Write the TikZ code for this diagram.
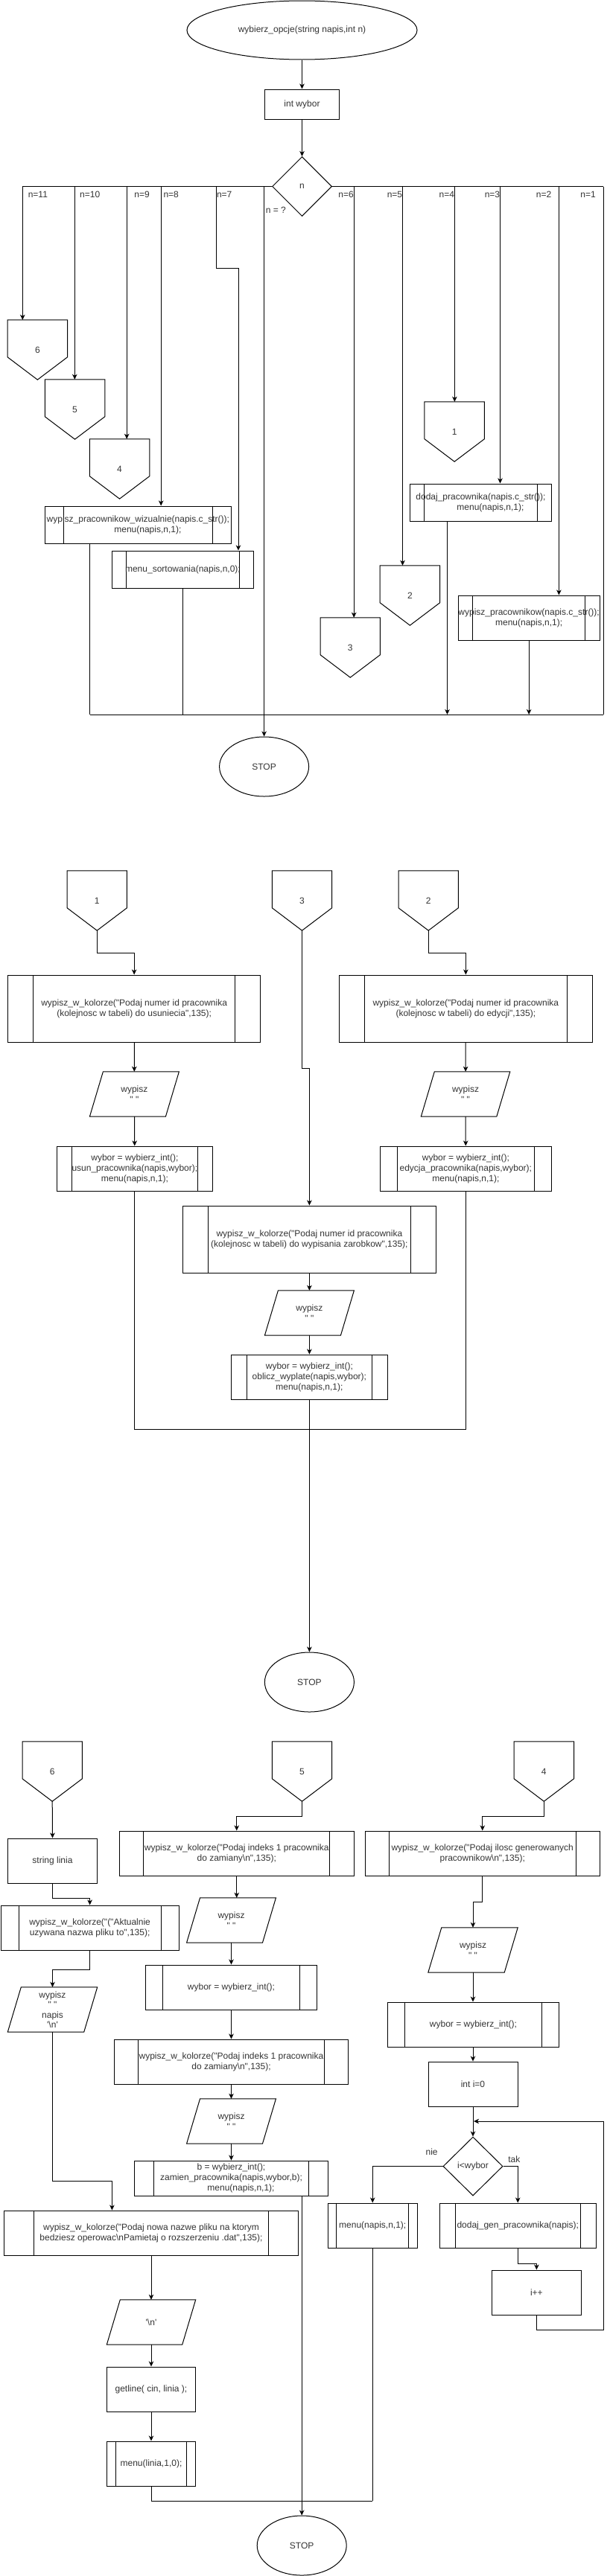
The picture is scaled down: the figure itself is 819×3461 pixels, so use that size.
\documentclass[tikz,border=0pt]{standalone}
\usepackage{fontspec}
\setmainfont{Liberation Sans}[Ligatures=TeXOff]
\usetikzlibrary{shapes.geometric,arrows.meta,calc}
\definecolor{txt}{HTML}{333333}
\newcommand\offdraw[1]{\draw[ln] (#1.north west) -- (#1.north east) -- ([yshift=-50pt]#1.north east) -- (#1.south) -- ([yshift=-50pt]#1.north west) -- cycle;}
\newcommand\paradraw[1]{\draw[ln] ([xshift=18pt]#1.north west) -- (#1.north east) -- ([xshift=-18pt]#1.south east) -- (#1.south west) -- cycle;}
\newcommand\myBS{\textbackslash}
\begin{document}
\begin{tikzpicture}[x=1pt,y=-1pt,
  font=\fontsize{12}{14}\selectfont,
  every node/.append style={text=txt},
  ln/.style={line width=1pt},
  arr/.style={ln,-{Stealth[length=7pt,width=6.5pt,inset=2pt]}},
  sz/.style 2 args={minimum width=#1pt,minimum height=#2pt},
  box/.style={draw,ln,inner sep=0pt,align=center},
  sub/.style={box,path picture={\draw[line width=1pt]
     ([xshift=#1]path picture bounding box.north west) -- ([xshift=#1]path picture bounding box.south west)
     ([xshift=-#1]path picture bounding box.north east) -- ([xshift=-#1]path picture bounding box.south east);}},
  offp/.style={sz={80}{80},inner sep=0pt},
  para/.style={inner sep=0pt,align=center,font=\fontsize{12}{13.5}\selectfont},
  term/.style={ellipse,draw,ln,inner sep=0pt},
  dec/.style={diamond,draw,ln,inner sep=0pt,sz={80}{80}},
  lbl/.style={inner sep=0pt}]
\useasboundingbox (0,0) rectangle (819,3461);

% ---------------- top section
\node[term,sz={309}{79}] (start) at (405.5,40.5) {wybierz\_opcje(string napis,int n)};
\node[box,sz={100}{40}] (intw) at (405.5,140) {int wybor};
\node[dec] (dsw) at (405.5,250.5) {n};
\draw[arr] (start) -- (intw);
\draw[arr] (intw) -- (dsw);

\coordinate (c11) at (30.3,250.5);
\coordinate (c10) at (100.3,250.5);
\coordinate (c9) at (170.2,250.5);
\coordinate (c8) at (216.2,250.5);
\coordinate (c7) at (290.3,250.5);
\coordinate (cq) at (354.6,250.5);
\coordinate (c6) at (475.2,250.5);
\coordinate (c5) at (540.5,250.5);
\coordinate (c4) at (610.4,250.5);
\coordinate (c3) at (671.5,250.5);
\coordinate (c2) at (750.4,250.5);
\coordinate (c1) at (810.4,250.5);
\draw[ln] (dsw.west) -- (c11);
\draw[ln] (dsw.east) -- (c1);

\node[lbl,anchor=west] (l11) at (37.6,261) {n=11};
\node[lbl,anchor=west] (l10) at (107,261) {n=10};
\node[lbl,anchor=west] (l9) at (180.2,261) {n=9};
\node[lbl,anchor=west] (l8) at (219.3,261) {n=8};
\node[lbl,anchor=west] (l7) at (290.8,261) {n=7};
\node[lbl,anchor=east] (l6) at (475,261) {n=6};
\node[lbl,anchor=east] (l5) at (540.3,261) {n=5};
\node[lbl,anchor=east] (l4) at (610.2,261) {n=4};
\node[lbl,anchor=east] (l3) at (671.3,261) {n=3};
\node[lbl,anchor=east] (l2) at (740.5,261) {n=2};
\node[lbl,anchor=east] (l1) at (800,261) {n=1};
\node[lbl,anchor=west] (lq) at (356.7,282) {n = ?};

\node[offp] (o6t) at (50.35,470) {6}; \offdraw{o6t}
\node[offp] (o5t) at (100.55,550) {5}; \offdraw{o5t}
\node[offp] (o4t) at (160.55,630) {4}; \offdraw{o4t}
\node[offp] (o1t) at (610.15,580) {1}; \offdraw{o1t}
\node[offp] (o2t) at (550.4,800) {2}; \offdraw{o2t}
\node[offp] (o3t) at (470.25,870) {3}; \offdraw{o3t}

\node[sub=25pt,sz={249.6}{50}] (wiz) at (185.4,705) {wypisz\_pracownikow\_wizualnie(napis.c\_str());\\\hspace*{26pt}menu(napis,n,1);};
\node[sub=19.5pt,sz={190.1}{50}] (msort) at (245.45,765) {menu\_sortowania(napis,n,0);};
\node[sub=19pt,sz={190.1}{50}] (dodaj) at (645.45,675) {dodaj\_pracownika(napis.c\_str());\\\hspace*{26pt}menu(napis,n,1);};
\node[sub=19.5pt,sz={190.1}{60}] (wyp2) at (710.15,830) {wypisz\_pracownikow(napis.c\_str());\\menu(napis,n,1);};
\node[term,sz={120}{80}] (stop1) at (354.6,1030) {STOP};

\draw[arr] (c11) -- (c11 |- o6t.north);
\draw[arr] (c10) -- (c10 |- o5t.north);
\draw[arr] (c9) -- (c9 |- o4t.north);
\draw[arr] (c8) -- (c8 |- wiz.north);
\coordinate (j7) at (320,360);
\draw[arr] (c7) |- (j7) -- (j7 |- msort.north);
\draw[arr] (cq) -- (stop1);
\draw[arr] (c6) -- (c6 |- o3t.north);
\draw[arr] (c5) -- (c5 |- o2t.north);
\draw[arr] (c4) -- (c4 |- o1t.north);
\draw[arr] (c3) -- (c3 |- dodaj.north);
\draw[arr] (c2) -- (c2 |- wyp2.north);
\coordinate (bl) at (120.6,960);
\coordinate (br) at (810.4,960);
\coordinate (bd) at (600.5,960);
\draw[ln] (c1) -- (br);
\draw[ln] (bl) -- (br);
\draw[ln] (wiz.south -| bl) -- (bl);
\draw[ln] (msort.south) -- (msort.south |- bl);
\draw[arr] (dodaj.south -| bd) -- (bd);
\draw[arr] (wyp2.south) -- (wyp2.south |- br);

% ---------------- middle section
\node[offp] (o1m) at (130.25,1210) {1}; \offdraw{o1m}
\node[offp] (o3m) at (405.5,1210) {3}; \offdraw{o3m}
\node[offp] (o2m) at (575.2,1210) {2}; \offdraw{o2m}

\node[sub=34pt,sz={339.5}{90}] (del) at (180.15,1355) {wypisz\_w\_kolorze("Podaj numer id pracownika\\(kolejnosc w tabeli) do usuniecia",135);};
\node[para,sz={119.6}{60}] (para1) at (180.4,1470) {wypisz\\" "}; \paradraw{para1}
\node[sub=20.5pt,sz={209.4}{60}] (usun) at (180.9,1570) {wybor = wybierz\_int();\\usun\_pracownika(napis,wybor);\\menu(napis,n,1);};

\node[sub=34pt,sz={339.9}{90}] (edy) at (625.35,1355) {wypisz\_w\_kolorze("Podaj numer id pracownika\\(kolejnosc w tabeli) do edycji",135);};
\node[para,sz={119.1}{60}] (para2) at (625.05,1470) {wypisz\\" "}; \paradraw{para2}
\node[sub=23pt,sz={230.3}{60}] (edy2) at (625.35,1570) {wybor = wybierz\_int();\\edycja\_pracownika(napis,wybor);\\menu(napis,n,1);};

\node[sub=34pt,sz={340}{90}] (zar) at (415.4,1665) {wypisz\_w\_kolorze("Podaj numer id pracownika\\(kolejnosc w tabeli) do wypisania zarobkow",135);};
\node[para,sz={119.6}{60}] (para3) at (415.4,1764) {wypisz\\" "}; \paradraw{para3}
\node[sub=21pt,sz={209.4}{60}] (obl) at (415.4,1850) {wybor = wybierz\_int();\\oblicz\_wyplate(napis,wybor);\\menu(napis,n,1);};
\node[term,sz={120}{80}] (stop2) at (415.4,2260) {STOP};

\draw[arr] (o1m.south) -- ++(0,30) -| (del.north);
\draw[arr] (del) -- (para1);
\draw[arr] (para1) -- (usun);
\draw[arr] (o2m.south) -- ++(0,30) -| (edy.north);
\draw[arr] (edy) -- (para2);
\draw[arr] (para2) -- (edy2);
\draw[arr] (o3m.south) -- ++(0,185) -| (zar.north);
\draw[arr] (zar) -- (para3);
\draw[arr] (para3) -- (obl);
\coordinate (mb) at (415.4,1920);
\draw[ln] (usun.south) |- (mb) -| (edy2.south);
\draw[arr] (obl) -- (stop2);

% ---------------- bottom section
\node[offp] (o6b) at (70.2,2380) {6}; \offdraw{o6b}
\node[offp] (o5b) at (405.5,2380) {5}; \offdraw{o5b}
\node[offp] (o4b) at (730.3,2380) {4}; \offdraw{o4b}

% column 6
\node[box,sz={120}{60}] (linia) at (70.5,2500) {string linia};
\node[sub=24pt,sz={239}{60}] (akt) at (120.6,2590) {wypisz\_w\_kolorze("("Aktualnie\\uzywana nazwa pliku to",135);};
\node[para,sz={120}{60}] (para4) at (70.5,2700) {wypisz\\" "\\napis\\'\myBS n'}; \paradraw{para4}
\node[sub=40.5pt,sz={395.3}{60}] (pliku) at (203,3000) {wypisz\_w\_kolorze("Podaj nowa nazwe pliku na ktorym\\bedziesz operowac\myBS nPamietaj o rozszerzeniu .dat",135);};
\node[para,sz={119}{60}] (para5) at (203,3120) {'\myBS n'}; \paradraw{para5}
\node[box,sz={119.6}{60}] (getl) at (203,3210) {getline( cin, linia );};
\node[sub=12pt,sz={119.6}{60}] (mlin) at (203,3310) {menu(linia,1,0);};

\draw[arr] (o6b.south) -- (linia.north);
\draw[arr] (linia.south) -- ++(0,20) -| (akt.north);
\draw[arr] (akt.south) -- ++(0,26) -| (para4.north);
\coordinate (pk) at (150.4,2930);
\draw[arr] (para4.south) |- (pk) -- (pk |- pliku.north);
\draw[arr] (pliku) -- (para5);
\draw[arr] (para5) -- (getl);
\draw[arr] (getl) -- (mlin);

% column 5
\node[sub=32.5pt,sz={314.9}{60}] (ind1) at (317.75,2490) {wypisz\_w\_kolorze("Podaj indeks 1 pracownika\\do zamiany\myBS n",135);};
\node[para,sz={119.5}{60}] (para6) at (310.5,2580) {wypisz\\" "}; \paradraw{para6}
\node[sub=23pt,sz={230.3}{60}] (wyb1) at (310.5,2670) {wybor = wybierz\_int();};
\node[sub=32pt,sz={314.9}{60}] (ind2) at (310.5,2770) {wypisz\_w\_kolorze("Podaj indeks 1 pracownika\\do zamiany\myBS n",135);};
\node[para,sz={119.5}{60}] (para7) at (310.5,2850) {wypisz\\" "}; \paradraw{para7}
\node[sub=25.6pt,sz={259.5}{47}] (bbox) at (310.5,2926.5) {b = wybierz\_int();\\zamien\_pracownika(napis,wybor,b);\\\hspace*{26pt}menu(napis,n,1);};
\node[term,sz={120}{80}] (stop3) at (405.2,3420) {STOP};

\draw[arr] (o5b.south) -- ++(0,20) -| (ind1.north);
\draw[arr] (ind1.south) -- (ind1.south |- para6.north);
\draw[arr] (para6) -- (wyb1);
\draw[arr] (wyb1) -- (ind2);
\draw[arr] (ind2) -- (para7);
\draw[arr] (para7) -- (bbox);
\draw[arr] (bbox.south -| stop3) -- (stop3);

% column 4
\node[sub=32pt,sz={314.9}{60}] (ilo) at (647.75,2490) {wypisz\_w\_kolorze("Podaj ilosc generowanych\\pracownikow\myBS n",135);};
\node[para,sz={120}{60}] (para8) at (635,2620) {wypisz\\" "}; \paradraw{para8}
\node[sub=23pt,sz={229.8}{60}] (wyb2) at (635.5,2720) {wybor = wybierz\_int();};
\node[box,sz={120}{60}] (init) at (635,2800) {int i=0};
\node[dec,sz={80}{79}] (dloop) at (635,2910.5) {i<wybor};
\node[sub=11.5pt,sz={120}{60}] (mnap) at (500.25,2990) {menu(napis,n,1);};
\node[sub=21pt,sz={210.5}{60}] (dgen) at (695.25,2990) {dodaj\_gen\_pracownika(napis);};
\node[box,sz={119.6}{60}] (ipp) at (720.4,3080) {i++};
\node[lbl] (lnie) at (579.6,2891) {nie};
\node[lbl] (ltak) at (690.3,2901) {tak};

\draw[arr] (o4b.south) -- ++(0,20) -| (ilo.north);
\draw[arr] (ilo.south) -- ++(0,35) -| (para8.north);
\draw[arr] (para8) -- (wyb2.north -| para8);
\draw[arr] (wyb2.south -| init) -- (init);
\draw[arr] (init) -- (dloop);
\draw[arr] (dloop.west) -| (mnap.north);
\draw[arr] (dloop.east) -| (dgen.north);
\draw[arr] (dgen.south) -- ++(0,21) -| (ipp.north);
\coordinate (lr) at (810.4,2850);
\draw[arr] (ipp.south) -- ++(0,20) -| (lr) -- ([xshift=1pt]lr -| init);
\coordinate (jb) at (500.25,3360);
\draw[ln] (mlin.south) |- (jb);
\draw[ln] (mnap.south) -- (jb);
\end{tikzpicture}
\end{document}
